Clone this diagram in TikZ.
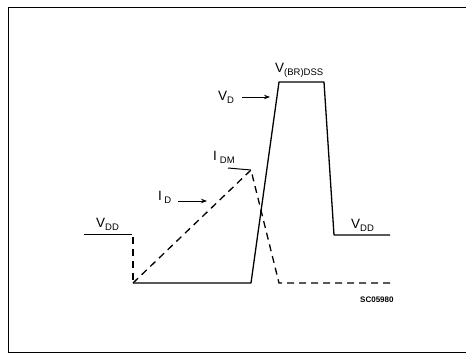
\documentclass[tikz,border=0pt]{standalone}
\usepackage{fontspec}
\setmainfont{Liberation Sans}
\usetikzlibrary{arrows.meta}
\newcommand\mysub[1]{\raisebox{-3.5pt}{\fontsize{9.5}{9.5}\selectfont #1}}
\begin{document}
\begin{tikzpicture}[x=1pt,y=-1pt,
  lbl/.style={inner sep=0pt, anchor=base west, font=\fontsize{13.5}{13.5}\selectfont},
  wave/.style={line width=1.3pt, line join=round},
  thinwave/.style={line width=1pt},
  dsh/.style={line width=1.3pt, dash pattern=on 7pt off 5pt},
  arr/.style={line width=0.8pt, -{Stealth[length=6pt,width=4.5pt]}},
  frame/.style={line width=0.8pt}]
\useasboundingbox (0,0) rectangle (466,354);
\draw[frame] (466,7) -- (8,7) -- (8,352) -- (466,352);
% waveform corners
\coordinate (vl0) at (84,234);
\coordinate (vl1) at (132,234);
\coordinate (vtop) at (133,237);
\coordinate (b0) at (133,283);
\coordinate (b1) at (251,283);
\coordinate (t0) at (279,82);
\coordinate (t1) at (324,82);
\coordinate (r0) at (334,235);
\coordinate (r1) at (390,235);
\coordinate (pk) at (251,170);
\coordinate (im0) at (228,168);
\coordinate (d0) at (279,283);
\coordinate (d1) at (390,283);
% voltage
\draw[thinwave] (vl0) -- (vl1);
\draw[dsh] (vtop) -- (b0);
\draw[wave] (b0) -- (b1) -- (t0) -- (t1) -- (r0) -- (r1);
% current
\draw[dsh] (b0) -- (pk) -- (d0) -- (d1);
\draw[thinwave] (im0) -- (pk);
% labels
\node[lbl] (vddl) at (96,227) {V\mysub{DD}};
\node[lbl] (id) at (158,200) {I\hspace{2.5pt}\mysub{D}};
\node[lbl] (idm) at (213,160) {I\hspace{3pt}\mysub{DM}};
\node[lbl] (vd) at (218,100) {V\mysub{D}};
\node[lbl] (vbr) at (275,72) {V\mysub{(BR)DSS}};
\node[lbl] (vddr) at (351,228) {V\mysub{DD}};
\node[inner sep=0pt, anchor=base west, font=\fontsize{8}{8}\selectfont\bfseries] (sc) at (360,302) {SC05980};
% arrows
\coordinate (ids) at (178,201);
\coordinate (ide) at (207,201);
\draw[arr] (ids) -- (ide);
\coordinate (vds) at (242,97);
\coordinate (vde) at (270,97);
\draw[arr] (vds) -- (vde);
\end{tikzpicture}
\end{document}
